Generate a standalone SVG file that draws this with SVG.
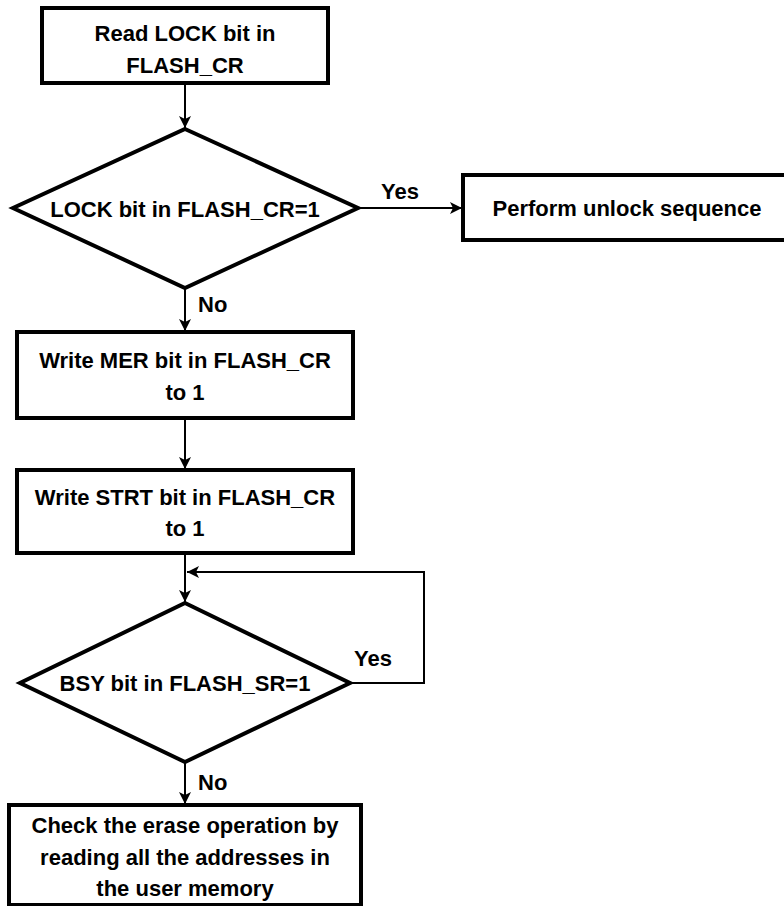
<svg xmlns="http://www.w3.org/2000/svg" width="784" height="906" viewBox="0 0 784 906">
  <defs>
    <marker id="arrow" markerWidth="12" markerHeight="12" viewBox="0 0 12 12" refX="12" refY="6" orient="auto" markerUnits="userSpaceOnUse">
      <path d="M0,0 L12,6 L0,12 L3,6 Z" fill="#000"/>
    </marker>
    <style>
      .box { fill: #fff; stroke: #000; stroke-width: 4; }
      .lbl { font-family: "Liberation Sans", Arial, sans-serif; font-weight: bold; font-size: 22px; fill: #000; text-anchor: middle; dominant-baseline: central; }
      .edge { fill: none; stroke: #000; stroke-width: 2; }
      .tag { font-family: "Liberation Sans", Arial, sans-serif; font-weight: bold; font-size: 22px; fill: #000; dominant-baseline: central; }
    </style>
  </defs>
  <rect width="784" height="906" fill="#fff"/>

  <g id="connectors">
    <line class="edge" x1="185" y1="83" x2="185" y2="128" marker-end="url(#arrow)"/>
    <line class="edge" x1="358" y1="208" x2="462" y2="208" marker-end="url(#arrow)"/>
    <text class="tag" x="381" y="191">Yes</text>
    <line class="edge" x1="185" y1="288" x2="185" y2="331" marker-end="url(#arrow)"/>
    <text class="tag" x="198" y="304">No</text>
    <line class="edge" x1="185" y1="418" x2="185" y2="469" marker-end="url(#arrow)"/>
    <line class="edge" x1="185" y1="553" x2="185" y2="602" marker-end="url(#arrow)"/>
    <polyline class="edge" points="350,683 424,683 424,572 187,572" marker-end="url(#arrow)"/>
    <text class="tag" x="354" y="658">Yes</text>
    <line class="edge" x1="185" y1="762" x2="185" y2="804" marker-end="url(#arrow)"/>
    <text class="tag" x="198" y="782">No</text>
  </g>

  <g id="read-lock">
    <rect class="box" x="42" y="8" width="286" height="75"/>
    <text class="lbl" x="185" y="33">Read LOCK bit in</text>
    <text class="lbl" x="185" y="65">FLASH_CR</text>
  </g>

  <g id="lock-check">
    <polygon class="box" points="185,129 358,208 185,288 13,208"/>
    <text class="lbl" x="185" y="209">LOCK bit in FLASH_CR=1</text>
  </g>

  <g id="unlock">
    <rect class="box" x="463" y="175" width="330" height="65"/>
    <text class="lbl" x="627" y="208">Perform unlock sequence</text>
  </g>

  <g id="write-mer">
    <rect class="box" x="17" y="332" width="336" height="86"/>
    <text class="lbl" x="185" y="360">Write MER bit in FLASH_CR</text>
    <text class="lbl" x="185" y="392">to 1</text>
  </g>

  <g id="write-strt">
    <rect class="box" x="17" y="470" width="336" height="83"/>
    <text class="lbl" x="185" y="497">Write STRT bit in FLASH_CR</text>
    <text class="lbl" x="185" y="528">to 1</text>
  </g>

  <g id="bsy-check">
    <polygon class="box" points="185,603 350,683 185,762 20,683"/>
    <text class="lbl" x="185" y="683">BSY bit in FLASH_SR=1</text>
  </g>

  <g id="verify">
    <rect class="box" x="9" y="805" width="352" height="100"/>
    <text class="lbl" x="185" y="825">Check the erase operation by</text>
    <text class="lbl" x="185" y="857">reading all the addresses in</text>
    <text class="lbl" x="185" y="888">the user memory</text>
  </g>
</svg>
